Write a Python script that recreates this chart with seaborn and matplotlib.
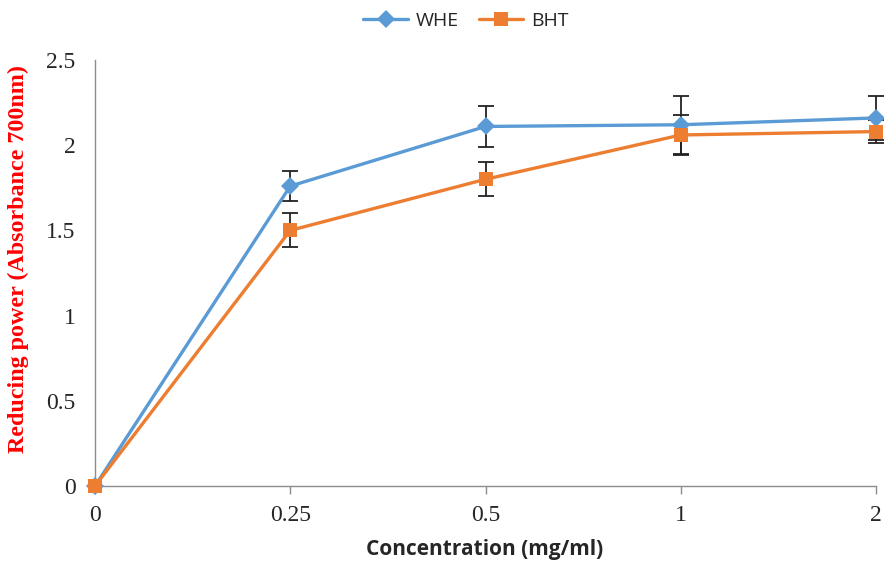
import matplotlib
matplotlib.use("Agg")
import matplotlib.pyplot as plt
import seaborn as sns
import pandas as pd
import numpy as np

categories = ["0", "0.25", "0.5", "1", "2"]
whe = [0.0, 1.76, 2.11, 2.12, 2.16]
whe_err = [0.0, 0.09, 0.12, 0.17, 0.13]
bht = [0.0, 1.50, 1.80, 2.06, 2.08]
bht_err = [0.0, 0.10, 0.10, 0.12, 0.07]
yticks = [0, 0.5, 1, 1.5, 2, 2.5]
ytick_labels = ["0", "0.5", "1", "1.5", "2", "2.5"]

sns.set_theme(style="white")
plt.rcParams["font.family"] = ["Liberation Serif", "DejaVu Sans"]

blue = "#5B9BD5"
orange = "#ED7D31"

pos = list(range(len(categories)))
df = pd.DataFrame({
    "pos": pos * 2,
    "value": whe + bht,
    "series": ["WHE"] * len(pos) + ["BHT"] * len(pos),
})

fig = plt.figure(figsize=(8.84, 5.61), dpi=100)
ax = fig.add_axes([95/884, 1-486/561, (876-95)/884, (486-60)/561])

for vals, errs in [(bht, bht_err), (whe, whe_err)]:
    e = np.array(errs)
    mask = e > 0
    ax.errorbar(np.array(pos)[mask], np.array(vals)[mask], yerr=e[mask], fmt="none",
                ecolor="#222222", elinewidth=1.3, capsize=6, capthick=1.3, zorder=2, clip_on=False)

sns.lineplot(data=df, x="pos", y="value", hue="series", style="series",
             palette={"WHE": blue, "BHT": orange},
             markers={"WHE": "D", "BHT": "s"}, dashes=False,
             markersize=10, linewidth=2.4, markeredgewidth=0,
             ax=ax, sort=False, zorder=3, clip_on=False)
for line in ax.get_lines():
    if line.get_marker() == "D":
        line.set_markersize(9)

ax.set_xlim(0, 4)
ax.set_ylim(0, 2.5)
ax.set_xticks(pos)
ax.set_xticklabels(categories, fontsize=17)
ax.set_yticks(yticks)
ax.set_yticklabels(ytick_labels, fontsize=17)
ax.tick_params(axis="x", which="both", bottom=True, length=6, width=1, color="#8c8c8c", pad=8)
ax.tick_params(axis="y", left=False, length=0, pad=14)

for s in ["top", "right"]:
    ax.spines[s].set_visible(False)
for s in ["left", "bottom"]:
    ax.spines[s].set_color("#8c8c8c")
    ax.spines[s].set_linewidth(1)

ax.set_xlabel("Concentration (mg/ml)", fontsize=15, fontweight="bold",
              family=["Open Sans", "DejaVu Sans"])
ax.xaxis.set_label_coords((485-95)/(876-95), -(549-486)/(486-60))
ax.xaxis.label.set_va("center")
ax.set_ylabel("Reducing power (Absorbance 700nm)", fontsize=17.3, fontweight="bold",
              color="red")
ax.yaxis.set_label_coords(-(95-18)/(876-95), (486-259)/(486-60))
ax.yaxis.label.set_va("center")

handles, labels = ax.get_legend_handles_labels()
leg = ax.legend(handles, labels, loc="center", bbox_to_anchor=((466-95)/(876-95), (486-21)/(486-60)),
                ncol=2, frameon=False, prop={"family": ["Open Sans", "DejaVu Sans"], "size": 14},
                handlelength=2.3, columnspacing=1.0, handletextpad=0.4)

fig.savefig("out.png", dpi=100)
